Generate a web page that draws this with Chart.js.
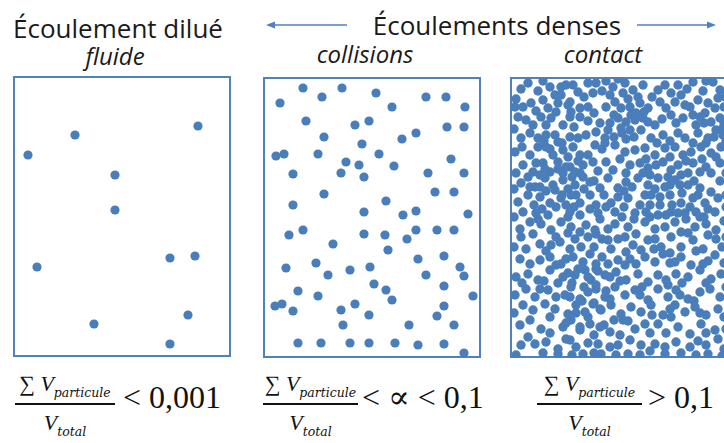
<!DOCTYPE html>
<html>
<head>
<meta charset="utf-8">
<script src="https://cdn.jsdelivr.net/npm/chart.js@4.4.1/dist/chart.umd.min.js"></script>
<style>
  html, body { margin: 0; padding: 0; background: #fff; }
  body { width: 724px; height: 443px; overflow: hidden; position: relative; }
  .panel { position: absolute; width: 218px; height: 281px; }
  .txt { position: absolute; white-space: nowrap; line-height: 1; color: #1a1a1a;
         font-family: "Open Sans", sans-serif; transform: translateX(-50%); }
  .head { font-size: 26px; }
  .sub { font-size: 24px; font-style: italic; }
  .frac { position: absolute; top: 370px; height: 73px; font-family: "Liberation Serif", "DejaVu Serif", serif; color: #111; }
  .frac .num, .frac .den { position: absolute; left: -10px; right: -10px; text-align: center; white-space: nowrap;
                           font-size: 22px; line-height: 22px; }
  .frac .num { top: 3px; }
  .frac .den { top: 42px; }
  .frac .bar { position: absolute; left: 0; right: 0; top: 33px; height: 1.5px; background: #111; }
  .frac i { font-style: italic; }
  .frac .sb { position: relative; top: 6px; font-family: "DejaVu Serif", serif; font-style: italic; font-size: 12.5px; }
  .rel { position: absolute; top: 381px; font-family: "Liberation Serif", "DejaVu Serif", serif;
         font-size: 32px; line-height: 32px; white-space: nowrap; color: #111; }
</style>
</head>
<body>

<div class="txt head" style="left:118px; top:15px;">Écoulement dilué</div>
<div class="txt sub" style="left:115px; top:44px;">fluide</div>
<div class="txt head" style="left:497px; top:12px;">Écoulements denses</div>
<div class="txt sub" style="left:365px; top:42px;">collisions</div>
<div class="txt sub" style="left:603px; top:42px;">contact</div>

<svg width="724" height="443" style="position:absolute;left:0;top:0;pointer-events:none">
  <g stroke="#4f81bd" stroke-width="1.3" fill="#4f81bd">
    <line x1="347" y1="25" x2="272" y2="25"/>
    <polygon points="266,25 275,21.5 275,28.5" stroke="none"/>
    <line x1="637" y1="25" x2="710" y2="25"/>
    <polygon points="716,25 707,21.5 707,28.5" stroke="none"/>
  </g>
</svg>

<div class="panel" style="left:13px; top:76px;"><canvas id="dilue" width="218" height="281"></canvas></div>
<div class="panel" style="left:263px; top:77px;"><canvas id="collisions" width="218" height="281"></canvas></div>
<div class="panel" style="left:510px; top:77px;"><canvas id="contact" width="218" height="281"></canvas></div>

<div class="frac" style="left:15px; width:100px;">
  <div class="num">∑ <i>V</i><span class="sb">particule</span></div>
  <div class="bar"></div>
  <div class="den"><i>V</i><span class="sb">total</span></div>
</div>
<div class="rel" style="left:123px;">&lt; 0,001</div>

<div class="frac" style="left:263px; width:95px;">
  <div class="num">∑ <i>V</i><span class="sb">particule</span></div>
  <div class="bar"></div>
  <div class="den"><i>V</i><span class="sb">total</span></div>
</div>
<div class="rel" style="left:362px;">&lt; ∝ &lt; 0,1</div>

<div class="frac" style="left:537px; width:105px;">
  <div class="num">∑ <i>V</i><span class="sb">particule</span></div>
  <div class="bar"></div>
  <div class="den"><i>V</i><span class="sb">total</span></div>
</div>
<div class="rel" style="left:648px;">&gt; 0,1</div>

<script>
// box size, in reference pixels (x to the right, y downwards)
const boxW = 218;
const boxH = 281;

// dilute flow: a few particles
const diluePts = [
  [185, 50], [62, 59], [15, 79], [102, 99], [102, 134], [24, 191],
  [157, 182], [182, 180], [81, 248], [175, 239], [157, 268]
];

// dense flow, collisions
const collisionPts = [
  [40, 11], [79, 11], [59, 20], [113, 16], [17, 26], [163, 20], [183, 20], [129, 30],
  [202, 30], [43, 44], [92, 48], [106, 44], [184, 50], [201, 50], [61, 60], [139, 62],
  [153, 56], [99, 67], [13, 79], [21, 77], [55, 77], [116, 77], [83, 85], [96, 88],
  [131, 89], [188, 82], [30, 97], [78, 96], [101, 100], [165, 96], [201, 96], [61, 117],
  [172, 115], [191, 115], [30, 128], [123, 124], [101, 135], [140, 138], [153, 134], [205, 137],
  [26, 158], [40, 153], [101, 157], [122, 158], [144, 162], [153, 153], [174, 153], [191, 153],
  [70, 167], [125, 173], [155, 182], [181, 179], [23, 191], [53, 186], [65, 198], [87, 193],
  [107, 190], [163, 198], [197, 190], [201, 199], [35, 214], [55, 219], [111, 207], [123, 213],
  [129, 223], [181, 209], [210, 219], [12, 229], [19, 227], [30, 234], [78, 233], [92, 227],
  [106, 238], [181, 229], [174, 239], [80, 248], [146, 248], [191, 248], [35, 266], [58, 266],
  [87, 266], [106, 266], [132, 266], [155, 268], [181, 267], [201, 276]
];

// dense flow, contact (upper half)
const contactTop = [
  [11, 12], [28, 14], [40, 10], [51, 10], [51, 18], [63, 8], [68, 15], [78, 6], [86, 6], [83, 16],
  [103, 10], [115, 6], [113, 16], [123, 13], [133, 8], [148, 13], [161, 16], [171, 18], [183, 5],
  [203, 5], [210, 13], [208, 21], [6, 22], [56, 8],
  [5, 30], [13, 30], [21, 26], [33, 23], [38, 31], [46, 35], [60, 25], [61, 35], [70, 31], [78, 30],
  [105, 25], [111, 31], [120, 30], [130, 26], [138, 31], [150, 25], [156, 31], [165, 25], [175, 28],
  [188, 23], [198, 26], [205, 31], [26, 34], [48, 26],
  [16, 43], [31, 40], [41, 41], [60, 40], [70, 40], [90, 46], [108, 41], [116, 45], [125, 43],
  [133, 41], [145, 48], [161, 38], [173, 41], [183, 38], [195, 36], [201, 45], [210, 41],
  [11, 61], [28, 61], [45, 58], [48, 65], [60, 60], [68, 61], [86, 55], [95, 61], [98, 53],
  [111, 51], [120, 53], [131, 53], [141, 61], [153, 58], [168, 56], [175, 61], [188, 56],
  [198, 61], [206, 53], [213, 58],
  [5, 75], [20, 78], [36, 70], [43, 78], [53, 73], [63, 70], [70, 78], [85, 68], [95, 66],
  [105, 68], [115, 75], [125, 73], [135, 71], [145, 78], [155, 71], [165, 70], [173, 78],
  [181, 75], [191, 70], [201, 76], [211, 70],
  [13, 88], [23, 95], [33, 86], [40, 95], [48, 85], [56, 90], [65, 95], [73, 88], [83, 85],
  [96, 85], [103, 93], [116, 96], [130, 86], [138, 91], [153, 85], [161, 93], [171, 98],
  [183, 86], [190, 95], [201, 96], [210, 86],
  [11, 106], [25, 110], [35, 101], [43, 108], [53, 103], [65, 108], [73, 100], [80, 105],
  [90, 111], [98, 101], [108, 111], [116, 105], [128, 101], [138, 108], [148, 101], [155, 110],
  [165, 103], [178, 108], [190, 111], [201, 115],
  [8, 125], [18, 118], [30, 120], [40, 126], [51, 121], [61, 118], [70, 126], [80, 118],
  [86, 128], [101, 126], [108, 120], [118, 121], [130, 128], [141, 118], [150, 128], [160, 118],
  [171, 126], [183, 121], [195, 126], [208, 121],
  [13, 135], [26, 136], [38, 138], [60, 135], [70, 138], [88, 136], [105, 135], [125, 136],
  [136, 135], [148, 138], [161, 135], [175, 136], [186, 135], [205, 135],
  // tighter clusters
  [36, 58], [52, 66], [40, 72], [58, 80], [48, 92], [62, 100], [45, 113], [58, 112], [35, 92],
  [68, 84], [56, 128], [46, 130], [30, 110], [66, 118], [74, 112],
  [100, 18], [118, 22], [126, 36], [104, 38], [112, 56], [124, 60], [134, 35], [96, 30],
  [146, 88], [140, 98], [160, 80], [168, 88], [145, 112], [158, 100], [172, 116], [162, 128],
  [150, 120], [178, 96], [135, 118], [140, 128],
  [194, 46], [204, 60], [186, 48], [214, 30], [196, 66], [214, 46],
  // particles in between
  [18, 6], [33, 4], [45, 18], [58, 28], [74, 20], [92, 14], [96, 4], [108, 2], [128, 20], [142, 20],
  [155, 8], [168, 8], [177, 12], [193, 14], [196, 4], [215, 20],
  [8, 40], [23, 48], [36, 48], [53, 48], [64, 50], [78, 44], [84, 36], [100, 46], [121, 38],
  [138, 45], [152, 42], [166, 46], [180, 30], [190, 40], [212, 52],
  [4, 52], [20, 56], [34, 64], [76, 58], [92, 72], [104, 60], [116, 62], [147, 66], [160, 64],
  [183, 66], [192, 82], [206, 80], [216, 64],
  [12, 70], [28, 70], [26, 86], [60, 90], [78, 78], [88, 94], [110, 82], [120, 88], [136, 82],
  [176, 84], [196, 90], [216, 96],
  [6, 96], [18, 100], [30, 98], [53, 96], [70, 96], [84, 104], [122, 110], [133, 96], [170, 108],
  [184, 104], [210, 104], [216, 118],
  [4, 112], [20, 110], [36, 114], [52, 118], [94, 118], [114, 114], [160, 108], [188, 118],
  [198, 132], [216, 130],
  [24, 128], [32, 132], [64, 130], [80, 132], [96, 130], [114, 130], [156, 138], [168, 136],
  [180, 130], [194, 140]
];

// dense flow, contact (lower half)
const contactBottom = [
  [10, 152], [20, 145], [31, 147], [41, 153], [51, 145], [61, 150], [70, 155], [76, 148],
  [85, 153], [98, 152], [105, 147], [118, 150], [126, 157], [135, 145], [145, 152], [155, 150],
  [165, 145], [171, 155], [185, 150], [196, 147], [206, 153],
  [11, 160], [23, 157], [30, 167], [41, 168], [50, 165], [65, 162], [71, 170], [78, 160],
  [86, 157], [98, 163], [101, 172], [115, 160], [123, 168], [131, 173], [138, 163], [151, 170],
  [161, 160], [171, 170], [183, 163], [193, 172], [206, 162],
  [10, 182], [20, 187], [30, 183], [40, 180], [51, 187], [63, 180], [73, 185], [80, 177],
  [86, 187], [98, 187], [108, 183], [115, 188], [126, 187], [135, 180], [145, 185], [153, 177],
  [165, 185], [171, 180], [181, 188], [193, 187], [205, 178],
  [6, 200], [18, 197], [28, 203], [40, 193], [53, 200], [65, 198], [75, 193], [86, 192],
  [81, 203], [95, 198], [106, 195], [116, 203], [128, 197], [138, 205], [148, 198], [156, 203],
  [166, 197], [178, 200], [190, 193], [201, 202], [211, 197],
  [5, 218], [16, 212], [25, 220], [38, 213], [55, 218], [61, 210], [70, 222], [78, 215],
  [86, 212], [95, 220], [105, 210], [115, 218], [125, 213], [138, 223], [148, 212], [158, 220],
  [166, 213], [178, 222], [190, 215], [200, 212], [210, 220],
  [13, 228], [23, 233], [35, 227], [45, 232], [58, 237], [66, 228], [75, 235], [83, 227],
  [91, 233], [101, 228], [111, 237], [121, 230], [131, 235], [141, 228], [153, 238], [165, 228],
  [175, 235], [185, 230], [196, 238], [208, 232],
  [10, 248], [20, 243], [31, 252], [53, 250], [61, 243], [70, 253], [80, 247], [90, 250],
  [100, 255], [113, 243], [125, 252], [135, 247], [148, 247], [161, 240], [168, 250], [180, 257],
  [191, 247], [205, 253],
  [11, 268], [25, 267], [36, 265], [48, 272], [60, 263], [66, 270], [88, 267], [108, 268],
  [120, 263], [131, 268], [145, 267], [155, 270], [166, 265], [180, 270], [196, 268], [208, 262],
  [33, 276], [48, 277], [73, 277], [91, 277], [118, 277], [155, 277], [171, 276], [198, 277],
  // tighter cluster, lower left
  [58, 196], [68, 192], [78, 200], [88, 194], [62, 206], [74, 210], [86, 208], [96, 214],
  [60, 220], [72, 224], [84, 226], [66, 236], [78, 240], [90, 232], [56, 246], [70, 250],
  [94, 248], [100, 200],
  // particles in between
  [4, 140], [28, 142], [58, 140], [90, 142], [112, 140], [124, 142], [140, 140], [176, 142],
  [190, 140], [214, 144],
  [46, 160], [58, 156], [92, 162], [108, 162], [145, 162], [178, 156], [198, 158], [216, 160],
  [4, 170], [16, 172], [36, 174], [60, 172], [84, 170], [116, 175], [144, 172], [160, 176],
  [186, 174], [212, 170],
  [46, 188], [56, 182], [92, 180], [120, 182], [160, 186], [198, 184], [214, 186],
  [12, 206], [34, 204], [48, 206], [110, 204], [132, 210], [158, 208], [172, 206], [196, 206],
  [30, 212], [46, 220], [100, 222], [130, 218], [170, 218], [184, 224], [216, 210],
  [4, 236], [40, 240], [104, 243], [118, 244], [142, 238], [160, 232], [190, 236], [214, 240],
  [40, 256], [84, 258], [110, 258], [140, 256], [156, 256], [196, 256], [216, 252],
  [18, 260], [56, 262], [78, 266], [100, 270], [140, 274], [188, 264], [214, 272],
  [6, 278], [62, 278], [84, 276], [106, 278], [130, 278], [186, 278], [212, 279]
];

const dotColor = '#4a7ebb';
const frameColor = '#4f81bd';

// draws the blue frame round the plot area
const boxBorder = {
  id: 'boxBorder',
  beforeDatasetsDraw(chart) {
    const { ctx, chartArea: a } = chart;
    ctx.save();
    ctx.strokeStyle = frameColor;
    ctx.lineWidth = 2;
    ctx.strokeRect(a.left + 1, a.top + 1, a.right - a.left - 2, a.bottom - a.top - 2);
    ctx.restore();
  }
};

function makePanel(id, pts, r) {
  new Chart(document.getElementById(id), {
    type: 'scatter',
    data: {
      datasets: [{
        data: pts.map(p => ({ x: p[0], y: p[1] })),
        pointRadius: r,
        pointHoverRadius: r,
        backgroundColor: dotColor,
        borderWidth: 0,
        clip: false
      }]
    },
    options: {
      responsive: false,
      animation: false,
      events: [],
      layout: { padding: 0, autoPadding: false },
      plugins: { legend: { display: false }, tooltip: { enabled: false } },
      scales: {
        x: { type: 'linear', min: 0, max: boxW, display: false },
        y: { type: 'linear', min: 0, max: boxH, reverse: true, display: false }
      }
    },
    plugins: [boxBorder]
  });
}

makePanel('dilue', diluePts, 4.6);
makePanel('collisions', collisionPts, 4.6);
makePanel('contact', contactTop.concat(contactBottom), 4.7);
</script>
</body>
</html>
